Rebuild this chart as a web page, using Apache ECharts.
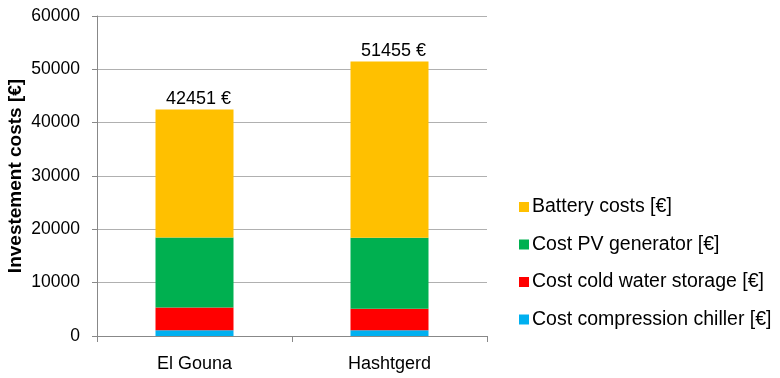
<!DOCTYPE html>
<html>
<head>
<meta charset="utf-8">
<script src="https://cdn.jsdelivr.net/npm/echarts@6/dist/echarts.min.js"></script>
<style>
  html, body { margin: 0; padding: 0; background: #fff; }
  #chart { width: 780px; height: 378px; }
</style>
</head>
<body>
<div id="chart"></div>
<script>
// categories and stacked cost components
const sites = ['El Gouna', 'Hashtgerd'];
const chillerCost = [1100, 1100];
const storageCost = [4250, 4000];
const pvCost = [13100, 13300];
const batteryCost = [24001, 33055];
const yTicks = [0, 10000, 20000, 30000, 40000, 50000, 60000];

const totals = sites.map((_, i) => chillerCost[i] + storageCost[i] + pvCost[i] + batteryCost[i]);

const font = 'Liberation Sans';
const chart = echarts.init(document.getElementById('chart'));

function bar(name, data, color) {
    return {
        name: name,
        type: 'bar',
        stack: 'cost',
        data: data,
        barWidth: 78,
        itemStyle: { color: color },
        emphasis: { disabled: true }
    };
}

const series = [
    bar('Cost compression chiller [€]', chillerCost, '#00B0F0'),
    bar('Cost cold water storage [€]', storageCost, '#FF0000'),
    bar('Cost PV generator [€]', pvCost, '#00B050'),
    bar('Battery costs [€]', batteryCost, '#FFC000')
];
// total label above the top segment
series[3].label = {
    show: true,
    position: 'top',
    distance: 2,
    offset: [4, 0],
    color: '#000',
    fontFamily: font,
    fontSize: 18,
    formatter: p => totals[p.dataIndex] + ' €'
};

chart.setOption({
    animation: false,
    grid: { left: 97, right: 293, top: 16, bottom: 42 },
    legend: {
        orient: 'vertical',
        left: 514,
        top: 192,
        itemWidth: 10,
        itemHeight: 10,
        itemGap: 17.5,
        icon: 'rect',
        data: ['Battery costs [€]', 'Cost PV generator [€]', 'Cost cold water storage [€]', 'Cost compression chiller [€]'],
        textStyle: { fontFamily: font, fontSize: 19.5, color: '#000', padding: [0, 0, 0, -2] }
    },
    xAxis: {
        type: 'category',
        data: sites,
        axisLine: { lineStyle: { color: '#888' } },
        axisTick: { show: true, length: 6, lineStyle: { color: '#888' } },
        axisLabel: { fontFamily: font, fontSize: 18, color: '#000', margin: 19 }
    },
    yAxis: {
        type: 'value',
        min: yTicks[0],
        max: yTicks[yTicks.length - 1],
        interval: 10000,
        name: 'Investement costs [€]',
        nameLocation: 'middle',
        nameGap: 72,
        nameTextStyle: { fontFamily: font, fontSize: 19, fontWeight: 'bold', color: '#000' },
        axisLine: { show: true, lineStyle: { color: '#888' } },
        axisTick: { show: true, length: 5, inside: false, lineStyle: { color: '#888' } },
        axisLabel: { fontFamily: font, fontSize: 17.5, color: '#000', margin: 17, formatter: v => String(v) },
        splitLine: { lineStyle: { color: '#B0B0B0' } }
    },
    series: series
});
</script>
</body>
</html>
